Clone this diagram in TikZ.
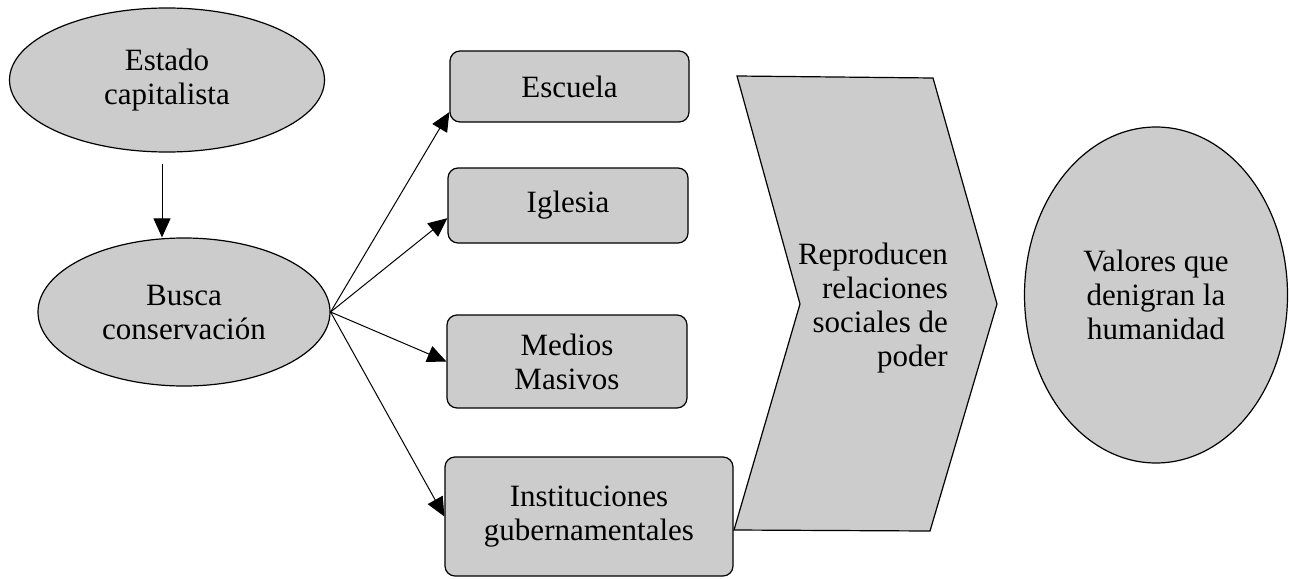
\documentclass[tikz,border=0pt]{standalone}
\usepackage{fontspec}
\setmainfont{Liberation Serif}
\usepackage{tikz}
\usetikzlibrary{shapes.geometric}
\usetikzlibrary{arrows.meta}
\definecolor{relleno}{gray}{0.8}
\tikzset{%
  flecha/.style = {-{Triangle[length=19pt,width=17pt]},line width=1pt},
  elip/.style = {ellipse,draw,fill=relleno,line width=1.2pt,
        inner sep=0pt,align=center},
  caja/.style = {rectangle,draw,fill=relleno,rounded corners=10pt,
        line width=1.2pt,inner sep=0pt,align=center},
  forma/.style = {draw,fill=relleno,line width=1.2pt,line join=miter}
}

\begin{document}
\begin{tikzpicture}[x=1pt,y=-1pt,font=\fontsize{31}{34}\selectfont]
    \useasboundingbox (0,0) rectangle (1289,578);
    % left column
    \node[elip,minimum width=315pt,minimum height=144pt] (estado) at (167,80) {Estado\\capitalista};
    \node[elip,minimum width=292pt,minimum height=148pt] (busca) at (184,312) {Busca\\conservaci\'on};
    % boxes
    \node[caja,minimum width=239pt,minimum height=71pt] (escuela) at (569.5,86.5) {Escuela};
    \node[caja,minimum width=240pt,minimum height=75pt] (iglesia) at (568,205.5) {Iglesia};
    \node[caja,minimum width=240pt,minimum height=93pt] (medios) at (567,361.5) {Medios\\Masivos};
    \node[caja,minimum width=288pt,minimum height=119pt] (inst) at (589,516.5) {Instituciones\\gubernamentales};
    % chevron
    \filldraw[forma] (737,76) -- (933,78) -- (997,304) -- (930,531) -- (734,530) -- (800,304) -- cycle;
    \node[align=right,anchor=east,inner sep=0pt] (repro) at (948,308) {Reproducen\\relaciones\\sociales de\\poder};
    \node[elip,minimum width=263pt,minimum height=336pt] (valores) at (1156,295) {Valores que\\denigran la\\humanidad};
    % arrows
    \draw[flecha] ([xshift=-5pt,yshift=-11pt]estado.south) -- ([xshift=-5pt]estado.south |- busca.north);
    \draw[flecha] (busca.east) -- (escuela.192);
    \draw[flecha] (busca.east) -- (iglesia.186);
    \draw[flecha] (busca.east) -- (medios.west);
    \draw[flecha] (busca.east) -- (inst.west);
\end{tikzpicture}
\end{document}
